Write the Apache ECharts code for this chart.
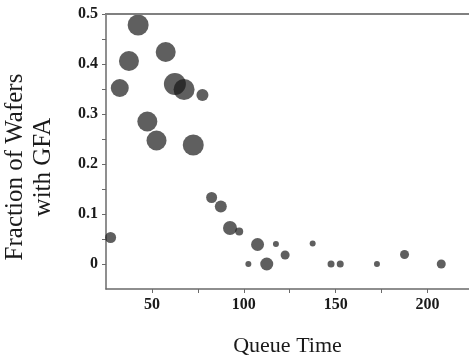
<!DOCTYPE html>
<html>
<head>
<meta charset="utf-8">
<script src="https://cdn.jsdelivr.net/npm/echarts@6/dist/echarts.min.js"></script>
<style>
html,body{margin:0;padding:0;background:#fff}
#wrap{position:relative;width:469px;height:362px}
#c{width:469px;height:362px}
#topline{position:absolute;left:105px;right:0;top:13px;height:2px;background:#808080;pointer-events:none}
</style>
</head>
<body>
<div id="wrap"><div id="c"></div><div id="topline"></div></div>
<script>
var queueTime = [27.5, 32.5, 37.5, 42.5, 47.5, 52.5, 57.5, 62.5, 67.5, 72.5, 77.5, 82.5, 87.5, 92.5, 97.5, 102.5, 107.5, 112.5, 117.5, 122.5, 137.5, 147.5, 152.5, 172.5, 187.5, 207.5];
var fraction  = [0.053, 0.352, 0.406, 0.478, 0.285, 0.247, 0.424, 0.360, 0.349, 0.238, 0.338, 0.133, 0.115, 0.072, 0.065, 0.000, 0.039, 0.000, 0.040, 0.018, 0.041, 0.000, 0.000, 0.000, 0.019, 0.000];
var markerSize = [11, 18, 20, 21, 20, 20, 20, 22, 21, 21, 12, 11, 12, 14, 8, 6, 13, 13, 6, 9, 6, 7, 7, 6, 9, 9];
var xTicks = [50, 100, 150, 200];
var xMinorTicks = [75, 125, 175];
var yTicks = [0, 0.1, 0.2, 0.3, 0.4, 0.5];
var yMinorTicks = [0.05, 0.15, 0.25, 0.35, 0.45];
var xMin = 25, xMax = 222.6, yMin = -0.05, yMax = 0.5;

var data = queueTime.map(function (x, i) { return [x, fraction[i], markerSize[i]]; });
var serif = '"Liberation Serif", "DejaVu Serif", serif';
var axisCol = '#6a6a6a';

var chart = echarts.init(document.getElementById('c'));
chart.setOption({
  animation: false,
  grid: { left: 106, right: -2, top: 14, bottom: 72, containLabel: false },
  xAxis: [{
    type: 'value', min: xMin, max: xMax, position: 'bottom',
    name: 'Queue Time', nameLocation: 'middle', nameGap: 46,
    nameTextStyle: { fontFamily: serif, fontSize: 22, color: '#1a1a1a' },
    splitLine: { show: false },
    axisLine: { show: true, onZero: false, lineStyle: { color: axisCol, width: 1.5 } },
    axisTick: { show: true, inside: false, length: 4, customValues: xTicks.concat(xMinorTicks), lineStyle: { color: axisCol } },
    axisLabel: { show: true, customValues: xTicks, margin: 8, fontFamily: serif, fontWeight: 'bold', fontSize: 16, color: '#1a1a1a' }
  }, {
    type: 'value', min: xMin, max: xMax, position: 'top',
    splitLine: { show: false },
    axisLine: { show: true, onZero: false, lineStyle: { color: '#808080', width: 2 } },
    axisTick: { show: false },
    axisLabel: { show: false }
  }],
  yAxis: {
    type: 'value', min: yMin, max: yMax, position: 'left',
    splitLine: { show: false },
    axisLine: { show: true, onZero: false, lineStyle: { color: axisCol, width: 1.5 } },
    axisTick: { show: true, length: 4, customValues: yTicks.concat(yMinorTicks), lineStyle: { color: axisCol } },
    axisLabel: {
      show: true, customValues: yTicks, margin: 8,
      fontFamily: serif, fontWeight: 'bold', fontSize: 16, color: '#1a1a1a',
      formatter: function (v) { return v === 0 ? '0' : v.toFixed(1); }
    }
  },
  graphic: [{
    type: 'text', x: 29, y: 167, rotation: Math.PI / 2,
    style: {
      text: 'Fraction of Wafers\nwith GFA',
      font: '25px ' + serif, fill: '#1a1a1a',
      align: 'center', verticalAlign: 'middle', lineHeight: 28
    }
  }],
  series: [{
    type: 'scatter',
    xAxisIndex: 0,
    data: data,
    symbol: 'circle',
    symbolSize: function (v) { return v[2]; },
    itemStyle: { color: 'rgba(20,20,20,0.85)' }
  }]
});
</script>
</body>
</html>
